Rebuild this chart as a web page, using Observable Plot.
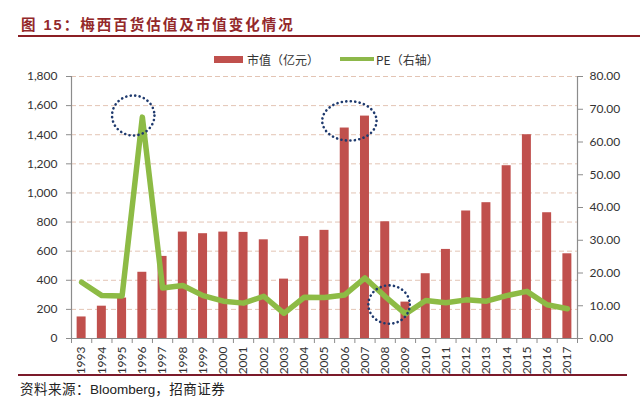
<!DOCTYPE html>
<html><head><meta charset="utf-8">
<script src="https://cdn.jsdelivr.net/npm/d3@7"></script>
<script src="https://cdn.jsdelivr.net/npm/@observablehq/plot@0.6"></script>
<style>
body{margin:0;background:#fff;width:640px;height:399px;position:relative;overflow:hidden;font-family:"Liberation Sans","Noto Sans CJK SC",sans-serif;}
#title{position:absolute;left:21px;top:16px;font-size:14.5px;font-weight:bold;color:#93282A;white-space:nowrap;line-height:18px;letter-spacing:2px;}
#tline{position:absolute;left:18px;top:35px;width:622px;height:2px;background:#8B1F24;}
#legend{position:absolute;top:52px;left:214px;font-size:12px;color:#333;display:flex;align-items:center;white-space:nowrap;font-family:"Noto Sans CJK SC",sans-serif;height:14px;}
.sw{display:inline-block;margin-right:4px;}
#chart{position:absolute;left:0;top:66px;}
#cline{position:absolute;left:18px;top:374px;width:609px;height:2px;background:#7B1A2A;}
#caption{position:absolute;left:20px;top:378px;font-size:13.5px;color:#222;white-space:nowrap;}
#caption .cj{letter-spacing:0.5px;}
</style></head>
<body>
<div id="title">图 15：梅西百货估值及市值变化情况</div>
<div id="tline"></div>
<div id="legend"><span class="sw" style="width:29px;height:7px;background:#C0504D"></span><span>市值（亿元）</span><span class="sw" style="width:34px;height:4px;background:#8DB84A;margin-left:21px;margin-right:2px"></span><span>PE（右轴）</span></div>
<div id="chart"></div>
<div id="cline"></div>
<div id="caption"><span class="cj">资料来源：</span>Bloomberg<span class="cj">，招商证券</span></div>
<script>
const years = [1993,1994,1995,1996,1997,1998,1999,2000,2001,2002,2003,2004,2005,2006,2007,2008,2009,2010,2011,2012,2013,2014,2015,2016,2017];
const marketCap = [148,222,278,455,564,731,720,731,729,678,408,700,743,1446,1528,802,250,445,612,876,933,1187,1400,864,582];
const pe = [17.2,13.1,13.0,67.6,15.4,16.2,13.1,11.4,10.8,12.9,7.7,12.6,12.5,13.3,18.5,12.8,7.5,11.6,10.9,11.8,11.4,13.1,14.4,10.3,9.1];
const leftTicks = [0,200,400,600,800,1000,1200,1400,1600,1800];
const rightTicks = [0,10,20,30,40,50,60,70,80];
const annoYear = [1995.55, 2006.23, 2008.19];
const annoValue = [1532, 1495, 233];
const annoRadius = [20, 19.7, 19.2];
const annoAspect = [1.06, 1.38, 1.08];

const peFactor = 1800 / 80;
const data = years.map((y, i) => ({year: y, cap: marketCap[i], pe: pe[i]}));
const annos = annoYear.map((y, i) => ({x: y, y: annoValue[i], r: annoRadius[i], k: annoAspect[i]}));
const boundaries = years.map(y => y - 0.5).concat([years[years.length - 1] + 0.5]);
const tickFont = "Lato, 'Open Sans', sans-serif";

const ellipse = k => ({
  draw(ctx, size) {
    const r = Math.sqrt(size / Math.PI);
    const n = 72;
    for (let i = 0; i <= n; i++) {
      const a = i / n * 2 * Math.PI;
      const px = r * k * Math.cos(a), py = r * Math.sin(a);
      if (i === 0) ctx.moveTo(px, py); else ctx.lineTo(px, py);
    }
    ctx.closePath();
  }
});

const chart = Plot.plot({
  width: 640,
  height: 308,
  marginTop: 10,
  marginBottom: 36,
  marginLeft: 71,
  marginRight: 63,
  style: {fontFamily: tickFont, fontSize: "12px", color: "#333", background: "transparent"},
  x: {type: "linear", domain: [1992.5, 2017.5]},
  y: {domain: [0, 1800]},
  r: {type: "identity"},
  marks: [
    Plot.gridY(leftTicks.slice(1), {stroke: "#E3C4B4", strokeOpacity: 1, strokeDasharray: "5,3"}),
    Plot.rectY(data, {x1: d => d.year - 0.222, x2: d => d.year + 0.222, y: "cap", fill: "#C0504D"}),
    Plot.ruleX([1992.5, 2017.5], {stroke: "#8C8C8C", strokeWidth: 1.2}),
    Plot.ruleY([0], {stroke: "#8C8C8C", strokeWidth: 1.2}),
    Plot.lineY(data, {x: "year", y: d => d.pe * peFactor, stroke: "#8DBB45", strokeWidth: 5.5, strokeLinejoin: "round", strokeLinecap: "round"}),
    ...annos.map(a => Plot.dot([a], {x: "x", y: "y", r: "r", symbol: ellipse(a.k), fill: "none", stroke: "#1F3A6E", strokeWidth: 2.6, strokeDasharray: "0.1,4.4", strokeLinecap: "round"})),
    Plot.axisY(leftTicks, {anchor: "left", tickSize: 5, tickPadding: 9, tickFormat: d => d3.format(",")(d), stroke: "#8C8C8C", fill: "#333", fontSize: 12}),
    Plot.axisY(rightTicks.map(v => v * peFactor), {anchor: "right", tickSize: 5, tickPadding: 7, tickFormat: d => (d / peFactor).toFixed(2), stroke: "#8C8C8C", fill: "#333", fontSize: 12}),
    Plot.axisX(boundaries, {anchor: "bottom", tickSize: 5, tickFormat: () => "", stroke: "#8C8C8C"}),
    Plot.axisX(years, {anchor: "bottom", tickSize: 0, tickPadding: 8, tickRotate: -90, tickFormat: d => String(d), fill: "#333", fontSize: 12}),
  ]
});
document.getElementById("chart").appendChild(chart);
</script>
</body></html>
